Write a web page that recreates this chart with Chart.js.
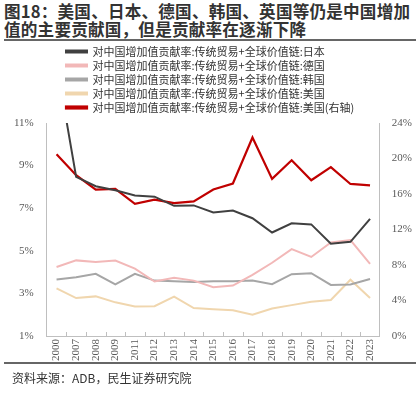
<!DOCTYPE html>
<html>
<head>
<meta charset="utf-8">
<script src="https://cdn.jsdelivr.net/npm/chart.js@4"></script>
<style>
  body { margin: 0; width: 420px; height: 393px; background: #fff; position: relative; overflow: hidden; font-family: "Noto Sans CJK SC", sans-serif; }
  #title { position: absolute; left: 4px; top: 2px; width: 416px; font-size: 16.6px; font-weight: bold; color: #333; line-height: 18px; letter-spacing: 0.2px; }
  #rule1 { position: absolute; left: 4px; top: 39px; width: 412px; height: 2px; background: #666; }
  #wrap { position: absolute; left: 0; top: 43px; width: 420px; height: 321px; }
  #rule2 { position: absolute; left: 4px; top: 362px; width: 412px; height: 1.5px; background: #666; }
  #src { position: absolute; left: 12px; top: 369px; font-size: 12px; color: #333; }
</style>
</head>
<body>
<div id="title">图18：美国、日本、德国、韩国、英国等仍是中国增加值的主要贡献国，但是贡献率在逐渐下降</div>
<div id="rule1"></div>
<div id="wrap"><canvas id="c"></canvas></div>
<div id="rule2"></div>
<div id="src">资料来源：ADB，民生证券研究院</div>
<script>
const years = ["2000", "2007", "2008", "2009", "2011", "2012", "2013", "2014", "2015", "2016", "2017", "2018", "2019", "2020", "2021", "2022", "2023"];
const japan = [13.8, 8.47, 8.03, 7.84, 7.6, 7.54, 7.11, 7.13, 6.8, 6.89, 6.53, 5.86, 6.29, 6.24, 5.33, 5.42, 6.5];
const germany = [4.24, 4.55, 4.47, 4.54, 4.16, 3.56, 3.73, 3.6, 3.29, 3.37, 3.87, 4.44, 5.08, 4.71, 5.39, 5.5, 4.39];
const korea = [3.65, 3.76, 3.92, 3.42, 3.92, 3.6, 3.57, 3.53, 3.57, 3.57, 3.6, 3.43, 3.9, 3.95, 3.4, 3.42, 3.68];
const usa = [3.24, 2.78, 2.86, 2.58, 2.39, 2.4, 2.85, 2.31, 2.26, 2.21, 2.0, 2.29, 2.45, 2.61, 2.69, 3.64, 2.78];
const uk = [20.47, 18.12, 16.5, 16.57, 14.9, 15.36, 14.97, 15.16, 16.5, 17.18, 22.37, 17.7, 19.8, 17.55, 19.03, 17.13, 16.98];
const prefix = "对中国增加值贡献率:传统贸易+全球价值链:";
const names = ["日本", "德国", "韩国", "美国", "美国(右轴)"];

const serif = "'Liberation Serif', 'Times New Roman', serif";
const tickColor = "#595959";

// move the legend so its rows start where the reference's do
const legendShift = {
  id: "legendShift",
  afterLayout(chart) {
    chart.legend.left = 63;
  },
};

// small inward tick marks on the category axis
const innerTicks = {
  id: "innerTicks",
  afterDraw(chart) {
    const x = chart.scales.x;
    const ctx = chart.ctx;
    const n = x.ticks.length;
    const half = (x.getPixelForValue(1) - x.getPixelForValue(0)) / 2;
    ctx.save();
    ctx.strokeStyle = "#bfbfbf";
    ctx.lineWidth = 1;
    for (let i = 1; i < n; i++) {
      const px = Math.round(x.getPixelForValue(i) - half) + 0.5;
      ctx.beginPath();
      ctx.moveTo(px, x.top);
      ctx.lineTo(px, x.top - 4);
      ctx.stroke();
    }
    ctx.restore();
  },
};

function ds(label, data, color, axis, width) {
  return {
    label: prefix + label,
    data: data,
    borderColor: color,
    backgroundColor: color,
    borderWidth: width,
    pointRadius: 0,
    tension: 0,
    yAxisID: axis,
  };
}

new Chart(document.getElementById("c"), {
  type: "line",
  data: {
    labels: years,
    datasets: [
      ds(names[0], japan, "#404040", "y", 2),
      ds(names[1], germany, "#f2b8b8", "y", 2),
      ds(names[2], korea, "#a6a6a6", "y", 2),
      ds(names[3], usa, "#f0d6ae", "y", 2),
      ds(names[4], uk, "#c00000", "y1", 2.2),
    ],
  },
  options: {
    responsive: true,
    maintainAspectRatio: false,
    animation: false,
    clip: 0,
    layout: { padding: { left: 9, right: 4, top: 0, bottom: 0 } },
    plugins: {
      tooltip: { enabled: false },
      legend: {
        position: "top",
        align: "start",
        labels: {
          boxWidth: 21,
          boxHeight: 2,
          padding: 3,
          color: "#333",
          font: { family: "'Noto Sans CJK SC', sans-serif", size: 11 },
        },
      },
    },
    scales: {
      x: {
        offset: true,
        grid: { display: false, drawTicks: false },
        border: { color: "#bfbfbf" },
        ticks: {
          minRotation: 90,
          maxRotation: 90,
          autoSkip: false,
          color: tickColor,
          padding: 3,
          font: { family: serif, size: 11 },
        },
      },
      y: {
        position: "left",
        min: 1,
        max: 11,
        grid: { display: false },
        border: { color: "#bfbfbf" },
        ticks: {
          stepSize: 2,
          color: tickColor,
          padding: 5,
          font: { family: serif, size: 11 },
          callback: (v) => v + "%",
        },
      },
      y1: {
        position: "right",
        min: 0,
        max: 24,
        grid: { display: false },
        border: { color: "#bfbfbf" },
        ticks: {
          stepSize: 4,
          color: tickColor,
          padding: 4,
          font: { family: serif, size: 11 },
          callback: (v) => v + "%",
        },
      },
    },
  },
  plugins: [legendShift, innerTicks],
});
</script>
</body>
</html>
